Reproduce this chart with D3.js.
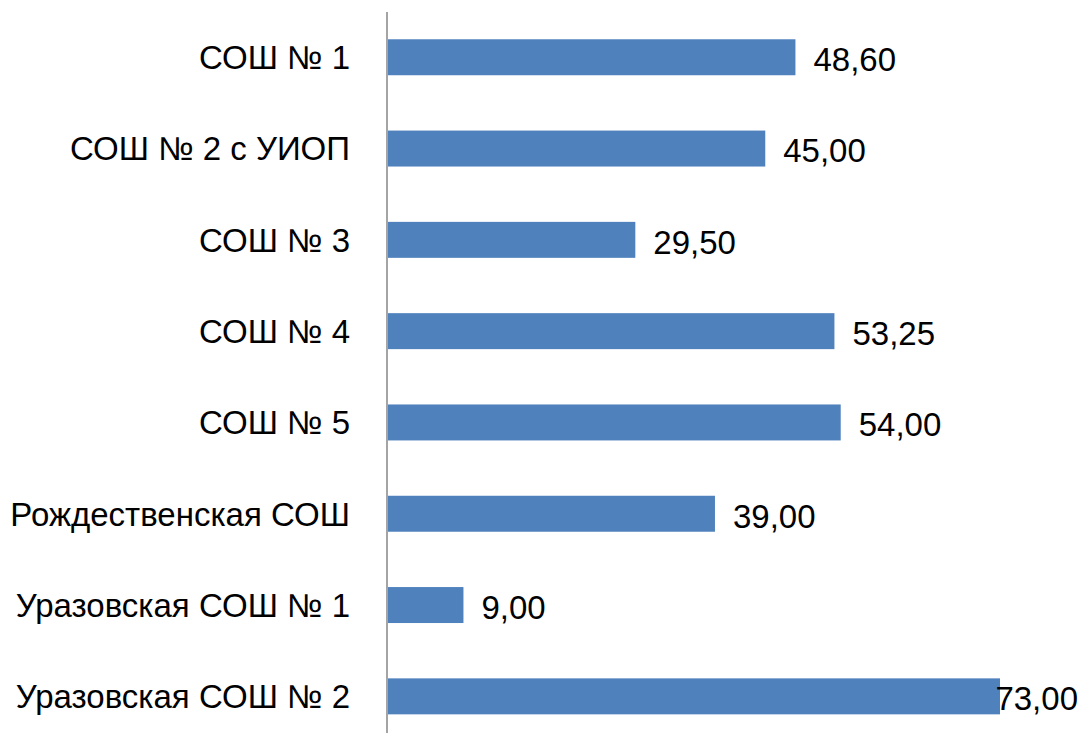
<!DOCTYPE html>
<html>
<head>
<meta charset="utf-8">
<script src="https://cdn.jsdelivr.net/npm/d3@7"></script>
<style>
  html, body { margin: 0; padding: 0; background: #fff; }
  svg { display: block; }
</style>
</head>
<body>
<svg id="chart" width="1084" height="733"></svg>
<script>
const categories = [
  "СОШ № 1",
  "СОШ № 2 с УИОП",
  "СОШ № 3",
  "СОШ № 4",
  "СОШ № 5",
  "Рождественская СОШ",
  "Уразовская СОШ № 1",
  "Уразовская СОШ № 2"
];
const values = [48.60, 45.00, 29.50, 53.25, 54.00, 39.00, 9.00, 73.00];
const valueLabels = ["48,60", "45,00", "29,50", "53,25", "54,00", "39,00", "9,00", "73,00"];

const W = 1084, H = 733;
const svg = d3.select("#chart");
const font = "'Liberation Sans', Arial, sans-serif";
const fontSize = 33;

const x = d3.scaleLinear().domain([0, 73]).range([388, 1000]);
const y = d3.scaleBand().domain(categories).range([11.6, 742])
  .paddingInner(0.606).paddingOuter(0.303);

// bars
svg.append("g").selectAll("rect")
  .data(values)
  .join("rect")
  .attr("x", x(0))
  .attr("y", (d, i) => y(categories[i]))
  .attr("width", d => x(d) - x(0))
  .attr("height", y.bandwidth())
  .attr("fill", "#4F81BD");

// axis line
const axis = d3.axisLeft(y).tickSize(0).tickPadding(37);
const gAxis = svg.append("g").attr("transform", `translate(${x(0) - 1},0)`).call(axis);
gAxis.select(".domain").attr("stroke", "#868686").attr("stroke-width", 1.5)
  .attr("d", `M0,12V${H}`);
gAxis.selectAll(".tick text")
  .attr("font-family", font)
  .attr("font-size", fontSize)
  .attr("fill", "#000")
  .attr("dy", "0.36em");

// value labels
const lbl = svg.append("g").selectAll("text")
  .data(values)
  .join("text")
  .attr("font-family", font)
  .attr("font-size", fontSize)
  .attr("fill", "#000")
  .attr("y", (d, i) => y(categories[i]) + y.bandwidth() / 2)
  .attr("dy", "0.42em")
  .text((d, i) => valueLabels[i]);
lbl.each(function(d) {
  const w = this.getComputedTextLength();
  const px = Math.min(x(d) + 18, W - 6 - w);
  d3.select(this).attr("x", px);
});
</script>
</body>
</html>
